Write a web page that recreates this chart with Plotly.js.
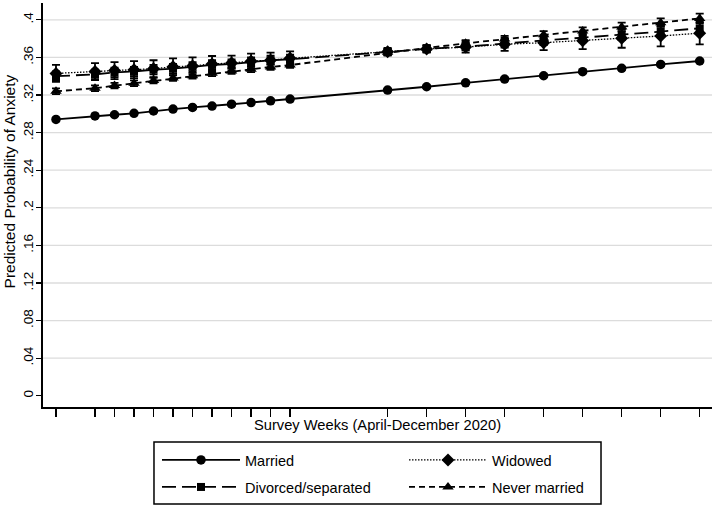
<!DOCTYPE html>
<html>
<head>
<meta charset="utf-8">
<script src="https://cdn.plot.ly/plotly-3.0.1.min.js"></script>
<style>html,body{margin:0;padding:0;background:#fff;}#chart{width:714px;height:507px;}</style>
</head>
<body>
<div id="chart"></div>
<script>
// Survey week positions (weeks since 23 April 2020)
const weekPosition = [0, 2, 3, 4, 5, 6, 7, 8, 9, 10, 11, 12, 17, 19, 21, 23, 25, 27, 29, 31, 33];

const married   = [0.2940, 0.2977, 0.2990, 0.3005, 0.3030, 0.3050, 0.3068, 0.3082, 0.3102, 0.3120, 0.3138, 0.3157, 0.3253, 0.3288, 0.3330, 0.3370, 0.3405, 0.3448, 0.3484, 0.3525, 0.3562];
const marriedCI = [0.0015, 0.0015, 0.0015, 0.0015, 0.0015, 0.0015, 0.0015, 0.0015, 0.0015, 0.0015, 0.0015, 0.0015, 0.0015, 0.0015, 0.0015, 0.0015, 0.0015, 0.0015, 0.0015, 0.0015, 0.0015];

const divorced   = [0.3400, 0.3420, 0.3440, 0.3450, 0.3470, 0.3480, 0.3500, 0.3520, 0.3530, 0.3550, 0.3570, 0.3580, 0.3660, 0.3690, 0.3715, 0.3750, 0.3780, 0.3810, 0.3840, 0.3875, 0.3910];
const divorcedCI = [0.0050, 0.0050, 0.0050, 0.0050, 0.0050, 0.0050, 0.0050, 0.0050, 0.0050, 0.0050, 0.0050, 0.0050, 0.0030, 0.0030, 0.0040, 0.0045, 0.0050, 0.0050, 0.0055, 0.0060, 0.0060];

const widowed   = [0.3430, 0.3450, 0.3460, 0.3470, 0.3480, 0.3500, 0.3510, 0.3530, 0.3540, 0.3560, 0.3570, 0.3590, 0.3660, 0.3690, 0.3710, 0.3740, 0.3757, 0.3778, 0.3803, 0.3828, 0.3858];
const widowedCI = [0.0090, 0.0090, 0.0090, 0.0090, 0.0090, 0.0090, 0.0090, 0.0085, 0.0080, 0.0080, 0.0080, 0.0075, 0.0040, 0.0040, 0.0060, 0.0070, 0.0080, 0.0090, 0.0100, 0.0110, 0.0120];

const neverMarried   = [0.3240, 0.3272, 0.3300, 0.3325, 0.3354, 0.3381, 0.3405, 0.3431, 0.3455, 0.3473, 0.3498, 0.3519, 0.3654, 0.3700, 0.3750, 0.3795, 0.3840, 0.3880, 0.3925, 0.3970, 0.4015];
const neverMarriedCI = [0.0030, 0.0030, 0.0030, 0.0030, 0.0030, 0.0030, 0.0030, 0.0030, 0.0030, 0.0030, 0.0030, 0.0030, 0.0030, 0.0030, 0.0035, 0.0035, 0.0040, 0.0040, 0.0045, 0.0045, 0.0050];

const yTickValues = [0, 0.04, 0.08, 0.12, 0.16, 0.2, 0.24, 0.28, 0.32, 0.36, 0.4];
const yTickLabels = ['0', '.04', '.08', '.12', '.16', '.2', '.24', '.28', '.32', '.36', '.4'];
const gridValues  = [0.04, 0.08, 0.12, 0.16, 0.2, 0.24, 0.28, 0.32, 0.36, 0.4];

const FONT = 'Liberation Sans, Arial, Helvetica, sans-serif';

function series(name, y, ci, symbol, msize, dash, lw, legendId) {
  return {
    type: 'scatter', mode: 'lines+markers', name: name,
    x: weekPosition, y: y,
    line: {color: '#000', width: lw, dash: dash},
    marker: {color: '#000', symbol: symbol, size: msize},
    error_y: {type: 'data', array: ci, visible: true, color: '#000', thickness: 1.8, width: 4},
    legend: legendId
  };
}

const traces = [
  series('Married', married, marriedCI, 'circle', 9.5, 'solid', 1.8, 'legend'),
  series('Divorced/separated', divorced, divorcedCI, 'square', 8, '14px,6px', 1.8, 'legend2'),
  series('Widowed', widowed, widowedCI, 'diamond', 10, '1.5px,1.5px', 1.3, 'legend'),
  series('Never married', neverMarried, neverMarriedCI, 'triangle-up', 10, '6px,4px', 1.8, 'legend2')
];

const shapes = gridValues.map(v => ({
  type: 'line', xref: 'paper', yref: 'y', x0: 0, x1: 1, y0: v, y1: v,
  line: {color: '#dcdcdc', width: 1.3}, layer: 'below'
}));
// legend frame
shapes.push({
  type: 'rect', xref: 'paper', yref: 'paper',
  x0: 0.1659, x1: 0.8341, y0: -0.0866, y1: -0.2401,
  line: {color: '#000', width: 1.5}, fillcolor: 'rgba(0,0,0,0)'
});

const legendBase = {
  orientation: 'h', xanchor: 'left', yanchor: 'top',
  bgcolor: 'rgba(0,0,0,0)', borderwidth: 0,
  font: {size: 14.5, family: FONT, color: '#000'},
  itemwidth: 78, entrywidth: 154, entrywidthmode: 'pixels'
};

const layout = {
  width: 714, height: 507,
  margin: {l: 43, r: 2, t: 3, b: 100},
  paper_bgcolor: '#fff', plot_bgcolor: '#fff',
  font: {family: FONT, color: '#000', size: 14},
  showlegend: true,
  xaxis: {
    range: [-0.666, 33.63], tickmode: 'array', tickvals: weekPosition,
    showticklabels: false, ticks: 'outside', ticklen: 8, tickwidth: 1.3, tickcolor: '#000',
    showline: true, linecolor: '#000', linewidth: 2, showgrid: false, zeroline: false,
    title: {text: 'Survey Weeks (April-December 2020)', font: {size: 14.7, family: FONT}, standoff: 4}
  },
  yaxis: {
    range: [-0.0119, 0.4179], tickmode: 'array', tickvals: yTickValues, ticktext: yTickLabels,
    tickangle: -90, tickfont: {size: 13.5, family: FONT}, ticklabelstandoff: -2,
    ticks: 'outside', ticklen: 5, tickwidth: 1.3, tickcolor: '#000',
    showline: true, linecolor: '#000', linewidth: 2, showgrid: false, zeroline: false
  },
  annotations: [{
    text: 'Predicted Probability of Anxiety', textangle: -90,
    xref: 'paper', yref: 'paper', x: -0.0508, y: 0.5585,
    xanchor: 'center', yanchor: 'middle', showarrow: false,
    font: {size: 15.5, family: FONT}
  }],
  shapes: shapes,
  legend: Object.assign({}, legendBase, {x: 0.1704, y: -0.0916}),
  legend2: Object.assign({}, legendBase, {x: 0.1704, y: -0.1585})
};

Plotly.newPlot('chart', traces, layout, {displayModeBar: false, staticPlot: true});
</script>
</body>
</html>
